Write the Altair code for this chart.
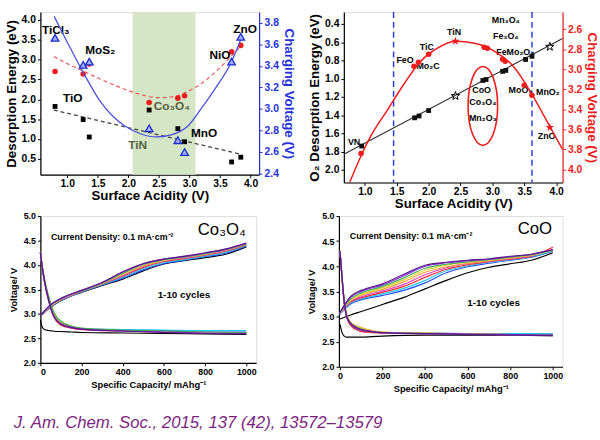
import altair as alt
import pandas as pd

FONT = "Liberation Sans"
BLUE = "#2430d8"
RED = "#ee1c1c"
OLIVE = "#56613f"

# ---------------- Panel A (top-left) ----------------
acid_a = [0.80, 1.26, 1.36, 2.34, 2.81, 2.92, 3.69, 3.84]
energy_black = [1.82, 1.49, 1.05, 1.73, 1.26, 0.93, 0.42, 0.54]
energy_red = [2.70, 2.64, 2.89, 1.92, 2.03, 2.09, 3.20, 3.36]
volt_blue = [3.66, 3.41, 3.44, 2.82, 2.71, 2.60, 3.44, 3.67]
band_a = [2.07, 3.10]
fit_red_x = [0.78, 1.0, 1.25, 1.5, 1.75, 2.0, 2.25, 2.5, 2.75, 3.0, 3.25, 3.5, 3.68, 3.85]
fit_red_y = [3.08, 2.90, 2.72, 2.54, 2.37, 2.22, 2.10, 2.04, 2.07, 2.22, 2.46, 2.80, 3.08, 3.36]
fit_black_x = [0.78, 3.85]
fit_black_y = [1.73, 0.61]
fit_blue_x = [0.785, 1.0, 1.27, 1.54, 1.75, 1.95, 2.2, 2.45, 2.7, 2.97, 3.2, 3.41, 3.68, 3.85]
fit_blue_v = [3.86, 3.62, 3.33, 3.07, 2.93, 2.84, 2.77, 2.74, 2.76, 2.84, 3.01, 3.18, 3.43, 3.66]
lab_a = ["TiCl₃", "MoS₂", "TiO", "TiN", "Co₃O₄", "NiO", "ZnO", "MnO"]
lab_a_x = [0.81, 1.54, 1.09, 2.15, 2.71, 3.50, 3.91, 3.24]
lab_a_y = [3.74, 3.24, 2.04, 0.85, 1.84, 3.12, 3.78, 1.16]
lab_a_col = ["black", "black", "black", OLIVE, OLIVE, "black", "black", "black"]

# ---------------- Panel B (top-right) ----------------
acid_b_sq = [0.95, 1.78, 1.85, 2.00, 2.85, 2.90, 3.16, 3.21, 3.52, 3.62]
o2_sq = [1.74, 1.43, 1.41, 1.35, 1.02, 1.01, 0.92, 0.91, 0.79, 0.755]
acid_b_star = [2.42, 3.90]
o2_star = [1.19, 0.65]
acid_b_red = [0.94, 1.77, 1.84, 2.00, 2.87, 2.92, 3.16, 3.20, 3.50, 3.62]
volt_b_red = [3.84, 2.97, 2.93, 2.85, 2.78, 2.79, 2.90, 2.92, 3.16, 3.26]
volt_b_star = [2.72, 3.58]
line_b_x = [0.67, 4.10]
line_b_y = [1.83, 0.56]
curve_b_x = [0.76, 0.95, 1.09, 1.35, 1.60, 1.86, 2.11, 2.42, 2.72, 3.03, 3.34, 3.62, 3.90, 4.10]
curve_b_v = [4.13, 3.85, 3.67, 3.41, 3.16, 2.93, 2.80, 2.72, 2.74, 2.82, 2.98, 3.25, 3.57, 3.80]
vlines_b = [1.45, 3.62]
circle_b = [2.85, 1.30]
lab_b = ["VN", "FeO", "TiC", "Mo₂C", "TiN", "Mn₃O₄", "Fe₃O₄", "FeMo₂O₄", "CoO", "Co₃O₄",
         "Mn₂O₃", "MoO₃", "MnO₂", "ZnO"]
lab_b_x = [0.83, 1.63, 1.97, 1.99, 2.40, 3.21, 3.21, 3.36, 2.83, 2.85, 2.85, 3.44, 3.87, 3.85]
lab_b_y = [1.70, 0.80, 0.65, 0.86, 0.49, 0.36, 0.53, 0.71, 1.12, 1.26, 1.43, 1.13, 1.15, 1.63]

# ---------------- Panels C, D (bottom) ----------------
cycles = ["c01", "c02", "c03", "c04", "c05", "c06", "c07", "c08", "c09", "c10"]
cycle_colors = ["#000000", "#1f4fff", "#1fc8f0", "#ff2a2a", "#e040c0", "#f5a040",
                "#e0d030", "#40b050", "#8a2be2", "#5a1a8a"]

cap_charge = [0, 50, 100, 200, 300, 400, 500, 600, 700, 800, 900, 1000]
co3o4_charge = [
    [2.95, 3.14, 3.27, 3.44, 3.58, 3.71, 3.88, 4.02, 4.09, 4.15, 4.22, 4.37],
    [2.97, 3.15, 3.28, 3.45, 3.59, 3.73, 3.90, 4.03, 4.10, 4.17, 4.24, 4.39],
    [2.97, 3.15, 3.28, 3.45, 3.60, 3.75, 3.93, 4.05, 4.11, 4.18, 4.26, 4.40],
    [2.97, 3.16, 3.29, 3.46, 3.61, 3.77, 3.95, 4.07, 4.13, 4.20, 4.28, 4.41],
    [2.97, 3.16, 3.29, 3.46, 3.61, 3.78, 3.97, 4.08, 4.14, 4.21, 4.29, 4.42],
    [2.97, 3.17, 3.30, 3.47, 3.62, 3.80, 3.98, 4.09, 4.15, 4.22, 4.30, 4.42],
    [2.97, 3.17, 3.30, 3.47, 3.62, 3.82, 4.00, 4.10, 4.16, 4.22, 4.31, 4.43],
    [2.97, 3.18, 3.31, 3.47, 3.63, 3.83, 4.01, 4.11, 4.16, 4.23, 4.31, 4.43],
    [2.97, 3.19, 3.31, 3.48, 3.64, 3.85, 4.02, 4.12, 4.17, 4.24, 4.32, 4.44],
    [2.97, 3.19, 3.32, 3.48, 3.64, 3.86, 4.03, 4.12, 4.18, 4.25, 4.33, 4.45],
]
cap_dis_a = [0, 10, 20, 40, 60, 80, 100, 150, 200, 400, 600, 800, 1000]
co3o4_discharge = [
    [2.88, 2.72, 2.68, 2.66, 2.65, 2.64, 2.64, 2.63, 2.62, 2.61, 2.60, 2.59, 2.58],
    [4.25, 3.92, 3.66, 3.28, 3.00, 2.86, 2.79, 2.72, 2.69, 2.67, 2.66, 2.65, 2.65],
    [4.25, 3.93, 3.68, 3.31, 3.03, 2.88, 2.81, 2.73, 2.70, 2.68, 2.67, 2.66, 2.66],
    [4.25, 3.92, 3.66, 3.27, 2.98, 2.84, 2.77, 2.71, 2.68, 2.65, 2.63, 2.61, 2.60],
    [4.25, 3.93, 3.67, 3.29, 3.00, 2.86, 2.79, 2.72, 2.69, 2.66, 2.64, 2.62, 2.61],
    [4.25, 3.94, 3.69, 3.33, 3.06, 2.91, 2.83, 2.74, 2.70, 2.66, 2.64, 2.62, 2.61],
    [4.25, 3.94, 3.70, 3.34, 3.07, 2.92, 2.84, 2.75, 2.70, 2.66, 2.64, 2.62, 2.61],
    [4.25, 3.95, 3.71, 3.36, 3.09, 2.93, 2.85, 2.75, 2.71, 2.67, 2.65, 2.63, 2.62],
    [4.25, 3.93, 3.67, 3.29, 3.01, 2.87, 2.80, 2.73, 2.69, 2.65, 2.63, 2.61, 2.60],
    [4.25, 3.93, 3.67, 3.28, 3.00, 2.86, 2.79, 2.72, 2.69, 2.65, 2.62, 2.60, 2.59],
]
coo_charge = [
    [2.95, 3.03, 3.10, 3.24, 3.38, 3.55, 3.72, 3.87, 3.98, 4.05, 4.12, 4.27],
    [3.05, 3.25, 3.33, 3.42, 3.52, 3.67, 3.87, 3.99, 4.06, 4.12, 4.18, 4.30],
    [3.05, 3.27, 3.35, 3.45, 3.56, 3.72, 3.91, 4.01, 4.08, 4.13, 4.19, 4.31],
    [3.06, 3.29, 3.37, 3.48, 3.60, 3.78, 3.94, 4.03, 4.09, 4.14, 4.20, 4.38],
    [3.06, 3.30, 3.39, 3.51, 3.64, 3.83, 3.97, 4.05, 4.10, 4.15, 4.21, 4.33],
    [3.06, 3.32, 3.42, 3.54, 3.69, 3.88, 3.99, 4.06, 4.11, 4.16, 4.22, 4.32],
    [3.07, 3.33, 3.44, 3.57, 3.73, 3.92, 4.02, 4.08, 4.12, 4.17, 4.22, 4.32],
    [3.07, 3.35, 3.47, 3.60, 3.77, 3.96, 4.04, 4.09, 4.13, 4.18, 4.23, 4.32],
    [3.08, 3.38, 3.50, 3.63, 3.81, 4.00, 4.07, 4.11, 4.14, 4.19, 4.24, 4.33],
    [3.08, 3.40, 3.52, 3.65, 3.84, 4.02, 4.08, 4.12, 4.15, 4.20, 4.24, 4.33],
]
cap_dis_b = [0, 10, 20, 30, 40, 60, 80, 100, 150, 200, 400, 600, 800, 1000]
coo_discharge = [
    [2.85, 2.68, 2.61, 2.59, 2.59, 2.59, 2.59, 2.59, 2.60, 2.61, 2.63, 2.63, 2.63, 2.62],
    [4.30, 3.75, 3.28, 3.02, 2.90, 2.79, 2.74, 2.71, 2.69, 2.68, 2.67, 2.66, 2.65, 2.65],
    [4.30, 3.76, 3.29, 3.03, 2.91, 2.80, 2.75, 2.72, 2.69, 2.68, 2.67, 2.66, 2.66, 2.66],
    [4.30, 3.74, 3.27, 3.01, 2.89, 2.78, 2.73, 2.70, 2.68, 2.67, 2.66, 2.65, 2.64, 2.63],
    [4.30, 3.75, 3.28, 3.02, 2.91, 2.81, 2.76, 2.73, 2.70, 2.68, 2.66, 2.65, 2.64, 2.63],
    [4.30, 3.78, 3.32, 3.07, 2.95, 2.85, 2.81, 2.78, 2.72, 2.69, 2.67, 2.65, 2.64, 2.63],
    [4.30, 3.78, 3.31, 3.06, 2.94, 2.84, 2.80, 2.77, 2.71, 2.69, 2.67, 2.65, 2.64, 2.63],
    [4.30, 3.77, 3.30, 3.05, 2.93, 2.83, 2.78, 2.75, 2.70, 2.68, 2.66, 2.65, 2.64, 2.63],
    [4.30, 3.76, 3.29, 3.04, 2.92, 2.82, 2.77, 2.74, 2.70, 2.68, 2.66, 2.65, 2.64, 2.63],
    [4.30, 3.76, 3.29, 3.03, 2.92, 2.82, 2.77, 2.74, 2.70, 2.68, 2.66, 2.64, 2.63, 2.62],
]
note_density = ["Current Density:  0.1 mA·cm⁻²"]
note_cycles = ["1-10 cycles"]
dens_c = [51, 4.58]
cyc_c = [697, 3.38]
name_c = ["Co₃O₄"]
name_c_pos = [881, 4.71]
dens_d = [46, 4.61]
cyc_d = [722, 3.26]
name_d = ["CoO"]
name_d_pos = [916, 4.75]

CITATION = "J. Am. Chem. Soc., 2015, 137 (42), 13572–13579"

# ---------------- shapes ----------------
STAR = ("M0,-1L0.235,-0.324L0.951,-0.309L0.38,0.124L0.588,0.809L0,0.4"
        "L-0.588,0.809L-0.38,0.124L-0.951,-0.309L-0.235,-0.324Z")
ELLIPSE = ("M0,-1C0.2071,-1 0.375,-0.5523 0.375,0C0.375,0.5523 0.2071,1 0,1"
           "C-0.2071,1 -0.375,0.5523 -0.375,0C-0.375,-0.5523 -0.2071,-1 0,-1Z")


def ax(values, title, color="black", fmt=".1f", size=10.5, tsize=13.5, orient=None, tpad=3, lpad=2):
    kw = dict(values=values, format=fmt, title=title, labelFont=FONT, titleFont=FONT,
              labelFontWeight="bold", titleFontWeight="bold", labelFontSize=size,
              titleFontSize=tsize, labelColor=color, titleColor=color, domainColor=color,
              tickColor=color, tickSize=3, labelPadding=lpad, titlePadding=tpad, grid=False,
              domainWidth=1.2)
    if orient:
        kw["orient"] = orient
    return alt.Axis(**kw)


def df(**cols):
    return pd.DataFrame(cols)


# ================= Panel A =================
xA = alt.Scale(domain=[0.56, 4.14], nice=False, zero=False)
yAL = alt.Scale(domain=[0.1, 4.2], nice=False, zero=False)
yAR = alt.Scale(domain=[2.39, 3.90], nice=False, zero=False)
axXA = ax([1.0, 1.5, 2.0, 2.5, 3.0, 3.5, 4.0], "Surface Acidity (V)", tpad=0, lpad=1)
axYAL = ax([0.5, 1.0, 1.5, 2.0, 2.5, 3.0, 3.5, 4.0], "Desorption Energy (eV)")
axYAR = ax([2.4, 2.6, 2.8, 3.0, 3.2, 3.4, 3.6, 3.8], "Charging Voltage (V)", color=BLUE, orient="right")

XA = alt.X("x:Q", scale=xA, axis=axXA)
YAL = alt.Y("y:Q", scale=yAL, axis=axYAL)
YAR = alt.Y("y:Q", scale=yAR, axis=axYAR)

bandA = alt.Chart(df(x=[band_a[0]], x2=[band_a[1]])).mark_rect(color="#d5e6c6").encode(x=XA, x2="x2:Q")
redfitA = alt.Chart(df(x=fit_red_x, y=fit_red_y)).mark_line(
    color="#f06060", strokeDash=[4, 3], strokeWidth=1.3, interpolate="monotone").encode(x=XA, y=YAL)
blkfitA = alt.Chart(df(x=fit_black_x, y=fit_black_y)).mark_line(
    color="#444444", strokeDash=[4, 3], strokeWidth=1.3).encode(x=XA, y=YAL)
blkA = alt.Chart(df(x=acid_a, y=energy_black)).mark_square(size=24, color="black", opacity=1).encode(x=XA, y=YAL)
redA = alt.Chart(df(x=acid_a, y=energy_red)).mark_circle(size=32, color=RED, opacity=1).encode(x=XA, y=YAL)
labA = alt.Chart(df(x=lab_a_x, y=lab_a_y, t=lab_a, c=lab_a_col)).mark_text(
    font=FONT, fontWeight="bold", fontSize=12).encode(
    x=XA, y=YAL, text="t:N", color=alt.Color("c:N", scale=None))
leftA = alt.layer(bandA, redfitA, blkfitA, blkA, redA, labA)

bluefitA = alt.Chart(df(x=fit_blue_x, y=fit_blue_v)).mark_line(
    color="#4a50e0", strokeWidth=1.3, interpolate="monotone", clip=True).encode(x=XA, y=YAR)
triA = alt.Chart(df(x=acid_a, y=volt_blue)).mark_point(
    shape="triangle-up", filled=True, fill="#a3aef2", stroke="#1c2bd0", strokeWidth=1.3,
    size=60, opacity=1).encode(x=XA, y=YAR)
rightA = alt.layer(bluefitA, triA)

panelA = alt.layer(leftA, rightA).resolve_scale(y="independent").properties(width=222, height=165)

# ================= Panel B =================
xB = alt.Scale(domain=[0.67, 4.10], nice=False, zero=False)
yBL = alt.Scale(domain=[0.27, 2.14], nice=False, zero=False, reverse=True)
yBR = alt.Scale(domain=[2.43, 4.13], nice=False, zero=False, reverse=True)
axXB = ax([1.0, 1.5, 2.0, 2.5, 3.0, 3.5, 4.0], "Surface Acidity (V)", tpad=0, lpad=1)
axYBL = ax([0.4, 0.6, 0.8, 1.0, 1.2, 1.4, 1.6, 1.8, 2.0], "O₂ Desorption Energy (eV)")
axYBR = ax([2.6, 2.8, 3.0, 3.2, 3.4, 3.6, 3.8, 4.0], "Charging Voltage (V)", color=RED, orient="right")
XB = alt.X("x:Q", scale=xB, axis=axXB)
YBL = alt.Y("y:Q", scale=yBL, axis=axYBL)
YBR = alt.Y("y:Q", scale=yBR, axis=axYBR)

vl = alt.Chart(df(x=vlines_b)).mark_rule(color="#2a3ee8", strokeDash=[6, 4], strokeWidth=1.5).encode(x=XB)
lineB = alt.Chart(df(x=line_b_x, y=line_b_y)).mark_line(color="#333333", strokeWidth=1.2, clip=True).encode(x=XB, y=YBL)
sqB = alt.Chart(df(x=acid_b_sq, y=o2_sq)).mark_square(size=24, color="#111111", opacity=1).encode(x=XB, y=YBL)
stB = alt.Chart(df(x=acid_b_star, y=o2_star)).mark_point(
    shape=STAR, size=80, filled=False, color="black", strokeWidth=1, opacity=1).encode(x=XB, y=YBL)
ellB = alt.Chart(df(x=[circle_b[0]], y=[circle_b[1]])).mark_point(
    shape=ELLIPSE, size=6400, filled=False, color=RED, strokeWidth=1.6, opacity=1).encode(x=XB, y=YBL)
labB = alt.Chart(df(x=lab_b_x, y=lab_b_y, t=lab_b)).mark_text(
    font=FONT, fontWeight="bold", fontSize=9, color="black").encode(x=XB, y=YBL, text="t:N")
leftB = alt.layer(vl, lineB, sqB, stB, ellB, labB)

curveB = alt.Chart(df(x=curve_b_x, y=curve_b_v)).mark_line(
    color=RED, strokeWidth=1.5, interpolate="monotone", clip=True).encode(x=XB, y=YBR)
redB = alt.Chart(df(x=acid_b_red, y=volt_b_red)).mark_circle(size=32, color=RED, opacity=1).encode(x=XB, y=YBR)
rstB = alt.Chart(df(x=acid_b_star, y=volt_b_star)).mark_point(
    shape=STAR, size=80, filled=True, color=RED, opacity=1).encode(x=XB, y=YBR)
rightB = alt.layer(curveB, redB, rstB)

panelB = alt.layer(leftB, rightB).resolve_scale(y="independent").properties(width=222, height=173)


# ================= Panels C, D =================
def cycle_frame(charge, cap_c, discharge, cap_d):
    rows = []
    for cyc, ch, dc in zip(cycles, charge, discharge):
        for c, v in zip(cap_c, ch):
            rows.append({"cycle": cyc, "branch": "charge", "x": c, "y": v})
        for c, v in zip(cap_d, dc):
            rows.append({"cycle": cyc, "branch": "discharge", "x": c, "y": v})
    return pd.DataFrame(rows)


def cycle_panel(data, xdom, dens, cyc, name, name_pos, w, h):
    xs = alt.Scale(domain=xdom, nice=False, zero=False)
    ys = alt.Scale(domain=[2.0, 5.0], nice=False, zero=False)
    axx = ax([0, 200, 400, 600, 800, 1000], "Specific Capacity/ mAhg⁻¹", fmt="d", size=9, tsize=9.5)
    axy = ax([2.0, 2.5, 3.0, 3.5, 4.0, 4.5, 5.0], "Voltage/ V", size=9, tsize=9.5, tpad=5)
    X = alt.X("x:Q", scale=xs, axis=axx)
    Y = alt.Y("y:Q", scale=ys, axis=axy)
    lines = alt.Chart(data).mark_line(strokeWidth=1.2, interpolate="monotone").encode(
        x=X, y=Y, detail="branch:N",
        color=alt.Color("cycle:N", scale=alt.Scale(domain=cycles, range=cycle_colors), legend=None))
    t1 = alt.Chart(df(x=[dens[0]], y=[dens[1]], t=note_density)).mark_text(
        font=FONT, fontWeight="bold", fontSize=9, align="left", color="black").encode(
        x=X, y=Y, text="t:N")
    t2 = alt.Chart(df(x=[cyc[0]], y=[cyc[1]], t=note_cycles)).mark_text(
        font=FONT, fontWeight="bold", fontSize=10, align="center", color="black").encode(
        x=X, y=Y, text="t:N")
    big = alt.Chart(df(x=[name_pos[0]], y=[name_pos[1]], t=name)).mark_text(
        font=FONT, fontSize=17, color="black").encode(x=X, y=Y, text="t:N")
    return alt.layer(lines, t1, t2, big).properties(width=w, height=h)


dataC = cycle_frame(co3o4_charge, cap_charge, co3o4_discharge, cap_dis_a)
dataD = cycle_frame(coo_charge, cap_charge, coo_discharge, cap_dis_b)
panelC = cycle_panel(dataC, [0, 1048], dens_c, cyc_c, name_c, name_c_pos, 219, 149)
panelD = cycle_panel(dataD, [-5, 1046], dens_d, cyc_d, name_d, name_d_pos, 227, 153)

top = alt.hconcat(panelA, panelB, spacing=10)
bottom = alt.hconcat(panelC, panelD, spacing=49)

chart = alt.vconcat(top, bottom, spacing=0).properties(
    padding={"left": 3, "top": 7, "right": 0, "bottom": 2},
    title=alt.TitleParams(CITATION, orient="bottom", anchor="start", font=FONT, fontSize=17,
                          fontStyle="italic", fontWeight="normal", color="#7d1f80", dx=10, offset=22),
).configure_view(stroke="black", strokeWidth=1.2).configure(background="white")

chart.save("out.html", embed_options={"renderer": "svg", "actions": False})
